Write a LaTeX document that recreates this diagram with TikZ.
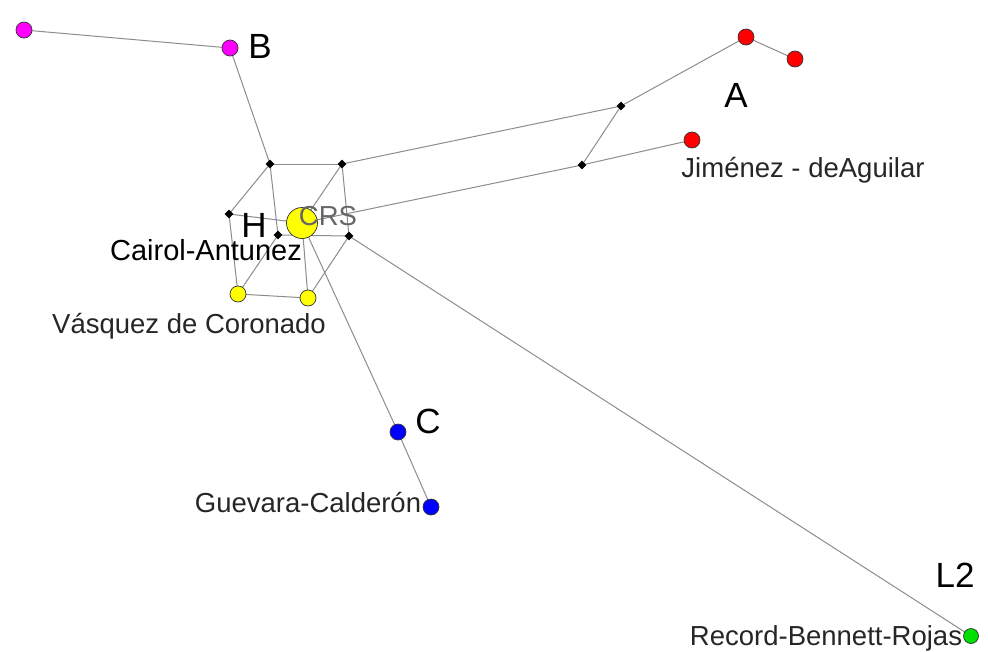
\documentclass[tikz,border=0pt]{standalone}
\usepackage{fontspec}
\setmainfont{Liberation Sans}
\usetikzlibrary{shapes.geometric}
\pgfdeclarelayer{bg}
\pgfsetlayers{bg,main}
\definecolor{edgegray}{HTML}{8C8C8C}
\definecolor{mag}{HTML}{FF00FF}
\definecolor{redn}{HTML}{FF0000}
\definecolor{yel}{HTML}{FFFF00}
\definecolor{blu}{HTML}{0000FF}
\definecolor{grn}{HTML}{00E000}
\tikzset{
  vert/.style={circle, draw=black!80, line width=0.7pt, inner sep=0pt, minimum size=16pt},
  magv/.style={vert, fill=mag},
  redv/.style={vert, fill=redn},
  yelv/.style={vert, fill=yel},
  bluv/.style={vert, fill=blu},
  grnv/.style={vert, fill=grn, minimum size=15pt},
  bigyel/.style={vert, fill=yel, minimum size=31pt},
  dia/.style={diamond, fill=black, inner sep=0pt, minimum size=9pt},
  edge/.style={draw=edgegray, line width=1pt},
  biglab/.style={anchor=base, inner sep=0pt, font=\fontsize{35}{37}\selectfont},
  smalllab/.style={anchor=base, inner sep=0pt, text=black!85, font=\fontsize{27.5}{30}\selectfont},
}
\begin{document}
\begin{tikzpicture}[x=1pt, y=-1pt]
\useasboundingbox (0,0) rectangle (988,651);
% vertices
\node[magv] (m1) at (24,30) {};
\node[magv] (B) at (230,48) {};
\node[redv] (a1) at (746,37) {};
\node[redv] (a2) at (795,59) {};
\node[redv] (a3) at (692,140) {};
\node[dia] (d1) at (621,106) {};
\node[dia] (d2) at (582,165) {};
\node[dia] (d3) at (270,164) {};
\node[dia] (d4) at (342,164) {};
\node[dia] (d5) at (229,214) {};
\node[dia] (d6) at (278,235) {};
\node[dia] (d7) at (349,236) {};
\node[bigyel] (crs) at (302,223) {};
\node[yelv] (y1) at (238,294) {};
\node[yelv] (y2) at (308,298) {};
\node[bluv] (C) at (398,432) {};
\node[bluv] (c2) at (431,507) {};
\node[grnv] (g) at (971,636) {};
% edges
\begin{pgfonlayer}{bg}
\path[edge] (m1.center) -- (B.center);
\path[edge] (B.center) -- (d3.center);
\path[edge] (d3.center) -- (d4.center);
\path[edge] (d4.center) -- (d1.center);
\path[edge] (d1.center) -- (a1.center);
\path[edge] (a1.center) -- (a2.center);
\path[edge] (d1.center) -- (d2.center);
\path[edge] (d2.center) -- (a3.center);
\path[edge] (crs.center) -- (d2.center);
\path[edge] (d3.center) -- (d5.center);
\path[edge] (d3.center) -- (d6.center);
\path[edge] (d4.center) -- (d7.center);
\path[edge] (d4.center) -- (crs.center);
\path[edge] (d5.center) -- (crs.center);
\path[edge] (d5.center) -- (y1.center);
\path[edge] (y1.center) -- (d6.center);
\path[edge] (y1.center) -- (y2.center);
\path[edge] (crs.center) -- (y2.center);
\path[edge] (d7.center) -- (y2.center);
\path[edge] (d6.center) -- (d7.center);
\path[edge] (crs.center) -- (C.center);
\path[edge] (C.center) -- (c2.center);
\path[edge] (d7.center) -- (g.center);
\end{pgfonlayer}
% labels
\node[biglab] (lB) at (260,58) {B};
\node[biglab] (lA) at (736,107) {A};
\node[biglab] (lH) at (254,237) {H};
\node[biglab] (lC) at (428,433) {C};
\node[biglab] (lL2) at (955,587) {L2};
\node[smalllab, text=black!60] (lCRS) at (328,225) {CRS};
\node[smalllab, text=black, font=\fontsize{29}{31}\selectfont] (lCA) at (206,260) {Cairol-Antunez};
\node[smalllab] (lVC) at (189,333) {Vásquez de Coronado};
\node[smalllab] (lGC) at (308,512) {Guevara-Calderón};
\node[smalllab] (lRBR) at (826,645) {Record-Bennett-Rojas};
\node[smalllab] (lJA) at (803,177) {Jiménez - deAguilar};
\end{tikzpicture}
\end{document}
